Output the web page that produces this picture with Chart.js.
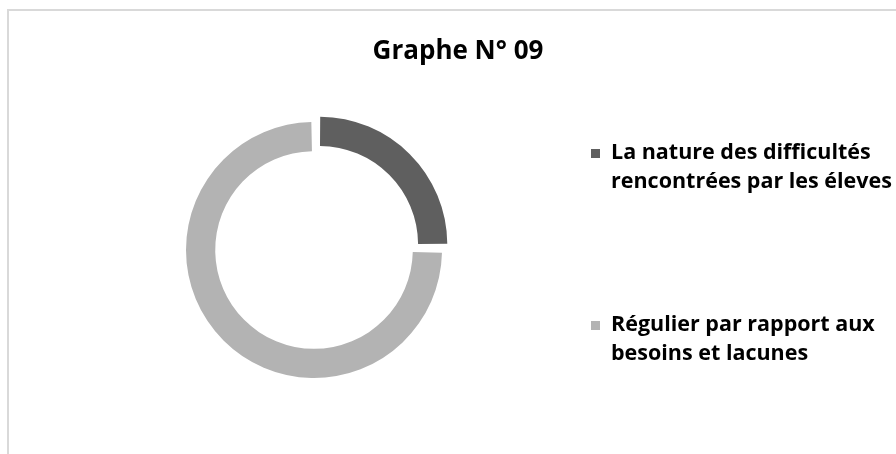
<!DOCTYPE html>
<html>
<head>
<meta charset="utf-8">
<script src="https://cdn.jsdelivr.net/npm/chart.js@4.4.1/dist/chart.umd.min.js"></script>
<style>
  html, body { margin: 0; padding: 0; background: #fff; }
  body { width: 896px; height: 454px; overflow: hidden; position: relative; font-family: "Open Sans", sans-serif; }
  #frame { position: absolute; left: 7px; top: 9px; width: 1000px; height: 600px; border: 2px solid #d9d9d9; box-sizing: border-box; }
  #wrap { position: absolute; left: 0; top: 0; width: 896px; height: 454px; }
  #title { position: absolute; left: 458px; top: 31px; transform: translateX(-50%); font-size: 26px; line-height: 36px; font-weight: 700; color: #000; white-space: nowrap; }
  .legend-item { position: absolute; left: 591px; white-space: nowrap; }
  .legend-item .box { position: absolute; left: 0; width: 9px; height: 9px; }
  .legend-item .txt { position: absolute; left: 20px; top: 0; font-size: 21.5px; line-height: 29px; font-weight: 700; color: #000; }
</style>
</head>
<body>
<div id="frame"></div>
<div id="wrap"><canvas id="chart"></canvas></div>
<div id="title"></div>
<div id="legend"></div>
<script>
const chartTitle = "Graphe N° 09";
const categories = [
    ["La nature des difficultés", "rencontrées par les éleves"],
    ["Régulier par rapport aux", "besoins et lacunes"]
];
const values = [25, 75];
const sliceColors = ["#5f5f5f", "#b3b3b3"];
const sliceOffsets = [30, 0];

document.getElementById("title").textContent = chartTitle;

// legend drawn as html so the two-line labels break like the original
const legendTops = [136, 308];
const legend = document.getElementById("legend");
categories.forEach((lines, i) => {
    const item = document.createElement("div");
    item.className = "legend-item";
    item.style.top = legendTops[i] + "px";
    const box = document.createElement("div");
    box.className = "box";
    box.style.background = sliceColors[i];
    box.style.top = "13px";
    const txt = document.createElement("div");
    txt.className = "txt";
    txt.innerHTML = lines.join("<br>");
    item.appendChild(box);
    item.appendChild(txt);
    legend.appendChild(item);
});

new Chart(document.getElementById("chart"), {
    type: "doughnut",
    data: {
        labels: categories,
        datasets: [{
            data: values,
            backgroundColor: sliceColors,
            borderWidth: 0,
            offset: sliceOffsets,
            spacing: 2
        }]
    },
    options: {
        responsive: true,
        maintainAspectRatio: false,
        animation: false,
        events: [],
        radius: 127,
        cutout: "77%",
        layout: { padding: { left: 184, right: 452, top: 120, bottom: 74 } },
        plugins: {
            legend: { display: false },
            title: { display: false },
            tooltip: { enabled: false }
        }
    }
});
</script>
</body>
</html>
